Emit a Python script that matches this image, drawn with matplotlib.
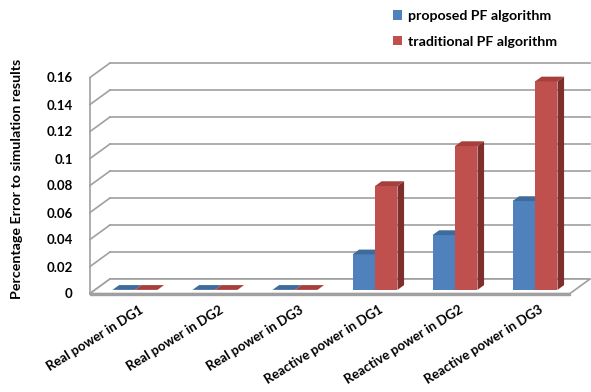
import numpy as np
import matplotlib
matplotlib.use("Agg")
import matplotlib.pyplot as plt
from matplotlib.patches import Polygon, Patch

plt.rcParams['font.family'] = ['Lato', 'DejaVu Sans']

categories = ['Real power in DG1', 'Real power in DG2', 'Real power in DG3',
              'Reactive power in DG1', 'Reactive power in DG2', 'Reactive power in DG3']
proposed = [0.0, 0.0, 0.0, 0.0263, 0.0406, 0.0658]
traditional = [0.0, 0.0, 0.0, 0.0769, 0.1065, 0.1544]
series_names = ['proposed PF algorithm', 'traditional PF algorithm']
yticks = [0, 0.02, 0.04, 0.06, 0.08, 0.1, 0.12, 0.14, 0.16]

# faces of the fake 3d columns: front, top, side
blue = ('#4F81BD', '#3F6A9C', '#385D8A')
red = ('#C0504D', '#A5403D', '#7E2F2D')
grid_col = '#A0A0A0'

# pixel geometry of the front plane
W, H = 591, 392
X0, PX_CAT = 90.0, 80.0        # x pixel of category -0.5, pixels per category
Y0, PX_UNIT = 293.5, 1350.0    # y pixel of value 0, pixels per unit value
DX, DY = 20 / PX_CAT, 14.5 / PX_UNIT   # full depth of the box in data units
F0, F1 = 0.25, 0.58            # depth of bar front / back faces
BW = 0.281                     # bar width in category units

left_px, right_px, top_px, bottom_px = 88, 591, 50, 298

fig = plt.figure(figsize=(W / 100, H / 100), dpi=100)
ax = fig.add_axes([left_px / W, 1 - bottom_px / H,
                   (right_px - left_px) / W, (bottom_px - top_px) / H])
ax.set_xlim((left_px - X0) / PX_CAT - 0.5, (right_px - X0) / PX_CAT - 0.5)
ax.set_ylim((Y0 - bottom_px) / PX_UNIT, (Y0 - top_px) / PX_UNIT)
for s in ax.spines.values():
    s.set_visible(False)

n = len(categories)
xl, xr = -0.5, n - 0.5
ymax = yticks[-1]

# back wall gridlines and side wall
for v in yticks:
    ax.plot([xl + DX, xr + DX], [v + DY, v + DY], color=grid_col, lw=1.2, zorder=1)
    ax.plot([xl, xl + DX], [v, v + DY], color=grid_col, lw=1.2, zorder=1)
ax.plot([xl, xl], [0, ymax], color=grid_col, lw=1.2, zorder=1)

# floor slab
slab = 1.5 / PX_UNIT
floor = Polygon([(xl, 0), (xr, 0), (xr + DX, DY), (xl + DX, DY)],
                closed=True, fc='white', ec=grid_col, lw=1.2, zorder=2)
ax.add_patch(floor)
ax.add_patch(Polygon([(xl, 0), (xr, 0), (xr, -slab), (xl, -slab)],
                     closed=True, fc='white', ec=grid_col, lw=1.0, zorder=2))


def column(x, v, cols):
    base = F0 * DY
    dx, dy = (F1 - F0) * DX, (F1 - F0) * DY
    ax.bar(x, v, width=BW, bottom=base, align='edge', color=cols[0], lw=0, zorder=3)
    top = base + v
    ax.add_patch(Polygon([(x, top), (x + BW, top), (x + BW + dx, top + dy), (x + dx, top + dy)],
                         closed=True, fc=cols[1], lw=0, zorder=3))
    ax.add_patch(Polygon([(x + BW, base), (x + BW + dx, base + dy),
                          (x + BW + dx, top + dy), (x + BW, top)],
                         closed=True, fc=cols[2], lw=0, zorder=3))


centers = np.arange(n) + F0 * DX
for c, p, t in zip(centers, proposed, traditional):
    column(c - BW, p, blue)
    column(c, t, red)

ax.set_yticks(yticks)
ax.set_yticklabels(['0' if v == 0 else f'{v:g}' for v in yticks],
                   fontsize=9.5, fontweight='bold')
ax.tick_params(axis='y', length=0, pad=11)
ax.set_xticks(centers + 0.05)
ax.set_xticklabels(categories, rotation=32, ha='right', rotation_mode='anchor',
                   fontsize=9.5, fontweight='bold')
ax.tick_params(axis='x', length=0, pad=4)

fig.text(17 / W, 1 - 179 / H, 'Percentage Error to simulation results',
         rotation=90, ha='center', va='center', fontsize=10.3, fontweight='bold')

handles = [Patch(fc=blue[0], ec='none'), Patch(fc=red[0], ec='none')]
fig.legend(handles, series_names, loc='upper left', bbox_to_anchor=(386 / W, 1 - 3 / H),
           frameon=False, borderpad=0, handlelength=0.65, handleheight=0.65,
           handletextpad=0.4, labelspacing=0.95, prop={'size': 10.2, 'weight': 'bold'})

fig.savefig('out.png', dpi=100)
